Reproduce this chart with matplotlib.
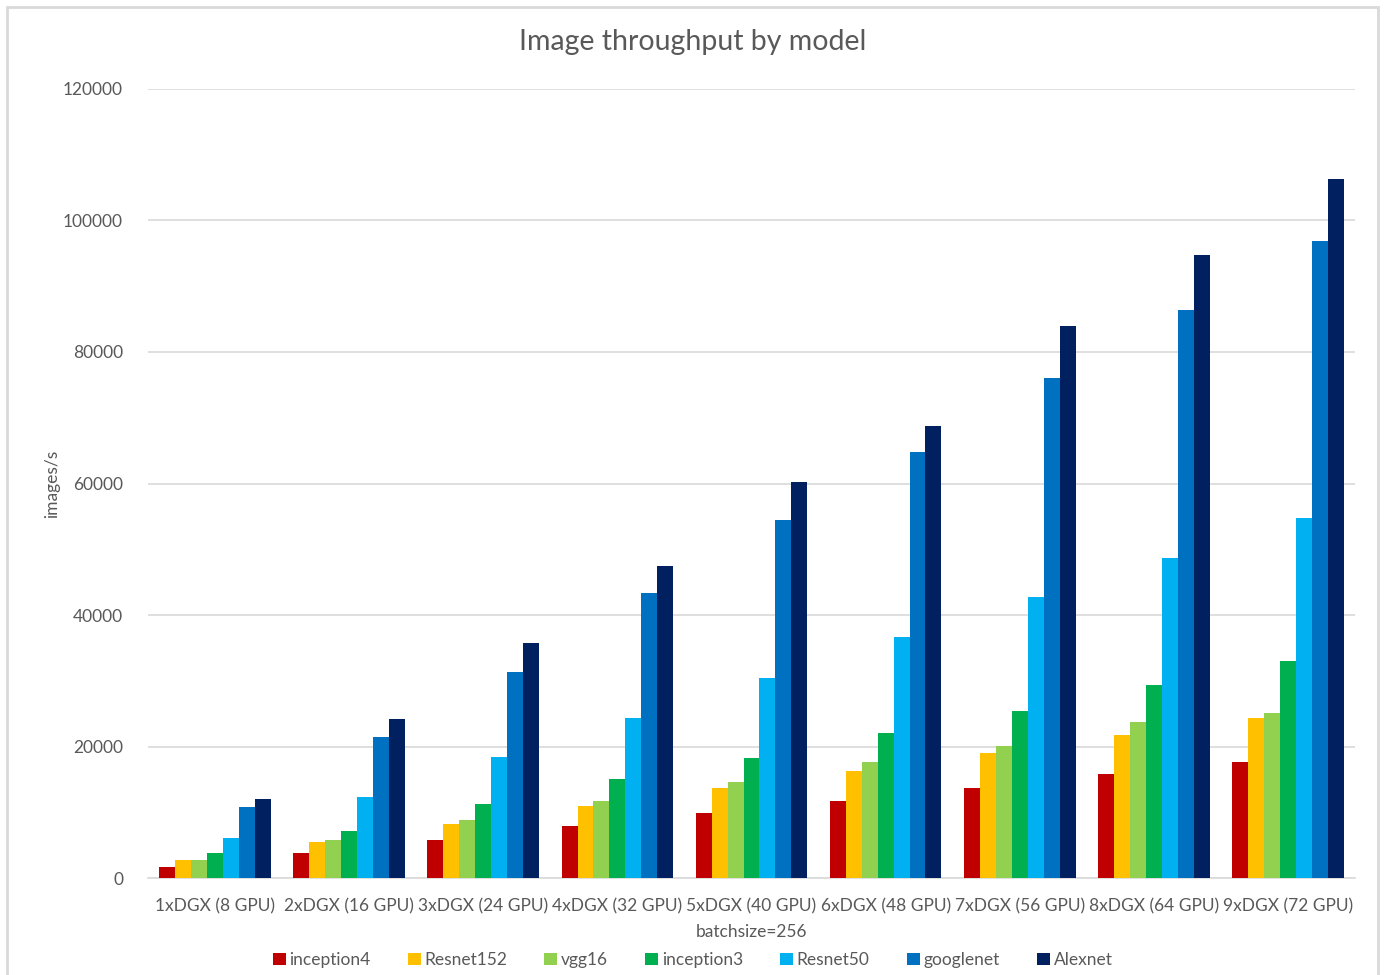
import matplotlib.pyplot as plt
import numpy as np
from matplotlib.patches import Rectangle

plt.rcParams['font.family'] = ['Lato', 'DejaVu Sans']

categories = ['1xDGX (8 GPU)', '2xDGX (16 GPU)', '3xDGX (24 GPU)', '4xDGX (32 GPU)',
              '5xDGX (40 GPU)', '6xDGX (48 GPU)', '7xDGX (56 GPU)', '8xDGX (64 GPU)',
              '9xDGX (72 GPU)']
models = ['inception4', 'Resnet152', 'vgg16', 'inception3', 'Resnet50', 'googlenet', 'Alexnet']

inception4 = [1800, 3800, 5900, 8000, 10000, 11700, 13800, 15800, 17700]
resnet152 = [2800, 5500, 8200, 11000, 13800, 16400, 19100, 21800, 24400]
vgg16 = [2800, 5900, 8900, 11700, 14700, 17700, 20100, 23700, 25100]
inception3 = [3800, 7200, 11300, 15050, 18300, 22100, 25400, 29400, 33100]
resnet50 = [6200, 12400, 18500, 24400, 30500, 36700, 42700, 48750, 54800]
googlenet = [10900, 21500, 31400, 43400, 54400, 64800, 76100, 86400, 96900]
alexnet = [12000, 24200, 35800, 47400, 60200, 68800, 84000, 94700, 106300]

series = [inception4, resnet152, vgg16, inception3, resnet50, googlenet, alexnet]
colors = ['#C00000', '#FFC000', '#92D050', '#00B050', '#00B0F0', '#0070C0', '#002060']

txt = '#595959'
grid = '#D9D9D9'

fig = plt.figure(figsize=(13.85, 9.75), dpi=100)
ax = fig.add_axes([0.1069, 0.0990, 0.8714, 0.8102])

x = np.arange(len(categories))
w = 0.119
for i, (vals, c, name) in enumerate(zip(series, colors, models)):
    ax.bar(x + (i - 3) * w, vals, width=w, color=c, label=name, zorder=3)

ax.set_xlim(-0.5, len(categories) - 0.5)
ax.set_ylim(0, 120000)
ax.set_yticks(np.arange(0, 120001, 20000))
ax.yaxis.grid(True, color=grid, linewidth=1.2, zorder=0)
for s in ['top', 'right', 'left']:
    ax.spines[s].set_visible(False)
ax.spines['bottom'].set_color(grid)
ax.spines['bottom'].set_linewidth(1.2)
ax.tick_params(axis='both', length=0, colors=txt, labelsize=12.5)
ax.tick_params(axis='y', pad=18)
ax.tick_params(axis='x', pad=14)
ax.set_xticks(x)
ax.set_xticklabels(categories)

# title is centred on the whole figure, like in Excel
fig.text(0.5, 1 - 42 / 975, 'Image throughput by model', color=txt, fontsize=20.5,
         ha='center', va='center')
ax.set_ylabel('images/s', color=txt, fontsize=12.5, labelpad=2)
ax.set_xlabel('batchsize=256', color=txt, fontsize=12.5, labelpad=7)

fig.legend(*ax.get_legend_handles_labels(), loc='center',
           bbox_to_anchor=(0.5, 1 - 960 / 975), ncol=7, frameon=False,
           fontsize=12.5, labelcolor=txt, handlelength=0.75, handleheight=0.75,
           handletextpad=0.2, columnspacing=2.15)

fig.patches.append(Rectangle((7 / 1385, -0.01), 1371 / 1385, 1 - 7 / 975 + 0.01,
                             transform=fig.transFigure, fill=False,
                             edgecolor=grid, linewidth=2))

fig.savefig('out.png', dpi=100, facecolor='white')
